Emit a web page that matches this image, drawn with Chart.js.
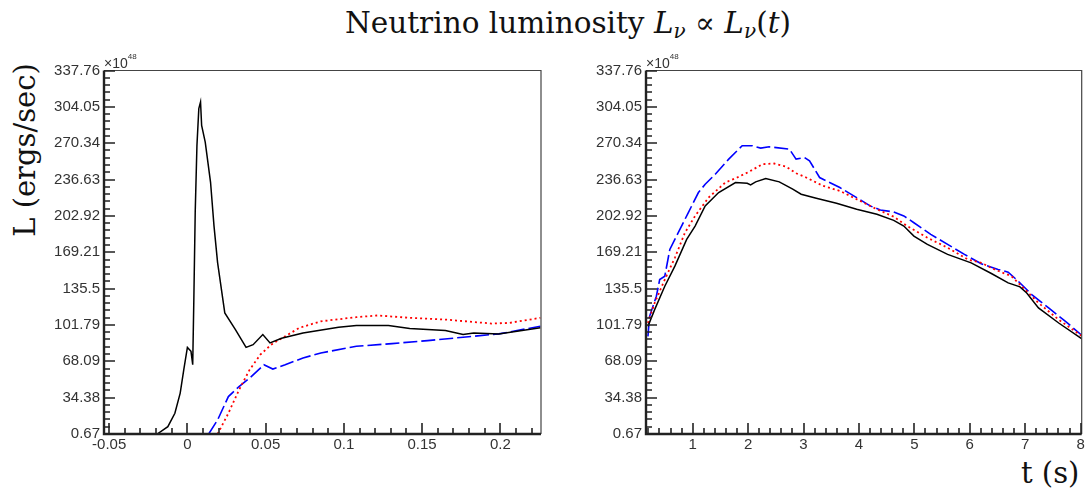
<!DOCTYPE html>
<html>
<head>
<meta charset="utf-8">
<script src="https://cdn.jsdelivr.net/npm/chart.js@4"></script>
<style>
  body { margin: 0; background: #fff; width: 1089px; height: 488px; position: relative; overflow: hidden; }
  canvas { position: absolute; top: 0; }
  .txt { position: absolute; font-family: "DejaVu Serif", serif; color: #111; white-space: nowrap; }
  .txt i { font-style: italic; }
  .txt sub { font-size: 20px; vertical-align: -5px; line-height: 0; }
</style>
</head>
<body>
<div class="txt" id="title" style="left:345px; top:6px; font-size:29.5px; line-height:34px;">Neutrino luminosity <i>L</i><sub><i>ν</i></sub> ∝ <i>L</i><sub><i>ν</i></sub>(<i>t</i>)</div>
<div class="txt" id="ytitle" style="left:-65px; top:132px; width:180px; height:36px; line-height:36px; font-size:29px; text-align:center; transform:rotate(-90deg);">L (ergs/sec)</div>
<div class="txt" id="xtitle" style="left:1021px; top:455px; font-size:29px; line-height:36px;">t (s)</div>
<canvas id="leftChart" width="545" height="488" style="left:0px;"></canvas>
<canvas id="rightChart" width="544" height="488" style="left:545px;"></canvas>
<script>
// Tick labels (ROOT style)
const yTickLabels = ['0.67', '34.38', '68.09', '101.79', '135.5', '169.21', '202.92', '236.63', '270.34', '304.05', '337.76'];
const xLeftLabels = ['-0.05', '0', '0.05', '0.1', '0.15', '0.2'];
const xRightLabels = ['1', '2', '3', '4', '5', '6', '7', '8'];

// Left panel: early times (s), luminosity in 1e48 erg/s
const tLeftBlack = [-0.05, -0.0193, -0.0125, -0.008, -0.0046, -0.0023, 0, 0.0023, 0.0034, 0.0041, 0.005, 0.0061, 0.0073, 0.0084, 0.0091, 0.0114, 0.0148, 0.017, 0.0193, 0.0239, 0.0307, 0.0375, 0.042, 0.0482, 0.0528, 0.0602, 0.0739, 0.0966, 0.108, 0.1285, 0.1421, 0.1649, 0.1762, 0.183, 0.199, 0.2256];
const lLeftBlack = [0.67, 0.67, 7.5, 19.9, 38.6, 60.3, 81.0, 77.3, 64.9, 123.9, 206.2, 268.2, 302.4, 308.6, 286.8, 271.3, 234.1, 193.7, 159.6, 113.0, 97.5, 81.0, 83.5, 92.9, 85.1, 89.4, 94.4, 99.7, 101.2, 101.2, 98.4, 96.6, 92.9, 94.4, 93.5, 99.1];
const tLeftRed = [0.0193, 0.0262, 0.033, 0.0398, 0.0466, 0.0535, 0.0602, 0.0716, 0.0853, 0.108, 0.1217, 0.1421, 0.1649, 0.1944, 0.2058, 0.2256];
const lLeftRed = [0.67, 19.9, 41.6, 60.3, 74.2, 83.5, 89.4, 99.1, 105.2, 109.0, 110.6, 108.4, 106.8, 103.1, 103.7, 108.4];
const tLeftBlue = [0.0136, 0.0193, 0.0262, 0.033, 0.0398, 0.0489, 0.0546, 0.0625, 0.0739, 0.0853, 0.108, 0.1308, 0.1535, 0.1762, 0.199, 0.2256];
const lLeftBlue = [0.67, 13.7, 35.4, 44.7, 52.5, 64.9, 60.9, 64.9, 71.2, 75.8, 82.0, 84.5, 87.3, 90.4, 93.5, 100.6];

// Right panel: late times (s)
const tRightBlack = [0.192, 0.313, 0.496, 0.678, 0.891, 1.043, 1.225, 1.468, 1.772, 1.984, 2.045, 2.136, 2.318, 2.562, 2.805, 2.957, 3.23, 3.595, 3.959, 4.324, 4.628, 4.81, 4.992, 5.235, 5.6, 6.025, 6.39, 6.693, 6.906, 7.028, 7.24, 7.605, 8.03];
const lRightBlack = [100.5, 116.0, 137.7, 156.3, 181.1, 193.5, 212.2, 224.6, 233.9, 233.2, 231.7, 234.5, 237.6, 234.5, 227.7, 223.0, 219.3, 214.6, 209.1, 204.4, 198.8, 193.5, 184.2, 176.5, 167.2, 159.4, 149.5, 140.8, 137.1, 131.5, 117.6, 103.6, 88.7];
const tRightRed = [0.192, 0.313, 0.496, 0.678, 0.86, 1.043, 1.286, 1.589, 1.802, 2.015, 2.258, 2.47, 2.683, 2.865, 3.048, 3.352, 3.655, 3.959, 4.324, 4.628, 4.87, 5.235, 5.6, 5.964, 6.207, 6.45, 6.754, 6.997, 7.24, 7.605, 8.03];
const lRightRed = [103.6, 122.2, 143.9, 164.1, 187.4, 202.9, 219.9, 233.9, 238.5, 243.8, 250.9, 251.5, 248.7, 242.5, 238.5, 230.8, 226.1, 218.4, 209.1, 202.2, 193.5, 182.7, 173.4, 162.5, 159.4, 153.2, 147.0, 134.6, 122.2, 106.7, 91.2];
const tRightBlue = [0.192, 0.222, 0.344, 0.404, 0.496, 0.587, 0.739, 0.921, 1.103, 1.225, 1.407, 1.65, 1.893, 2.076, 2.227, 2.38, 2.744, 2.865, 3.017, 3.108, 3.29, 3.655, 3.959, 4.202, 4.385, 4.628, 4.81, 4.992, 5.296, 5.6, 5.904, 6.207, 6.511, 6.693, 6.876, 7.119, 7.423, 7.727, 8.03];
const lRightBlue = [91.2, 109.8, 128.4, 143.9, 147.0, 171.8, 187.4, 206.0, 224.6, 232.3, 241.6, 255.6, 268.0, 268.0, 265.8, 267.0, 264.9, 255.6, 257.1, 254.0, 238.5, 229.2, 219.9, 212.2, 208.4, 206.6, 202.9, 196.6, 185.8, 176.5, 167.2, 158.5, 153.2, 150.8, 142.3, 130.0, 117.6, 105.2, 91.8];

const pts = (xs, ys) => xs.map((x, i) => ({ x: x, y: ys[i] }));

// y ticks: majors from labels, 4 minors between
function yTicks() {
  const majors = yTickLabels.map(Number);
  const out = [];
  majors.forEach((m, i) => {
    out.push({ value: m, isMajor: true, lab: yTickLabels[i] });
    if (i < majors.length - 1) {
      const step = (majors[i + 1] - m) / 5;
      for (let k = 1; k < 5; k++) out.push({ value: m + k * step, isMajor: false, lab: '' });
    }
  });
  return out;
}

function leftXTicks() {
  const out = [];
  for (let i = 0; i <= 27; i++) {
    const v = -0.05 + i * 0.01;
    out.push({ value: v, isMajor: i % 5 === 0, lab: i % 5 === 0 ? xLeftLabels[i / 5] : '' });
  }
  return out;
}

function rightXTicks() {
  const out = [];
  for (let i = 0; i < 40; i++) {
    const v = 0.2 + i * 0.2;
    const maj = (i + 1) % 5 === 0;
    out.push({ value: v, isMajor: maj, lab: maj ? xRightLabels[(i + 1) / 5 - 1] : '' });
  }
  return out;
}

// frame, inward ticks and the x10^48 exponent, ROOT style
const rootFrame = {
  id: 'rootFrame',
  afterDraw(chart) {
    const { ctx, chartArea: a, scales } = chart;
    ctx.save();
    ctx.strokeStyle = '#444';
    ctx.lineWidth = 1.2;
    ctx.beginPath();
    ctx.moveTo(a.left, a.top);
    ctx.lineTo(a.right, a.top);
    ctx.lineTo(a.right, a.bottom);
    ctx.stroke();
    ctx.strokeStyle = '#222';
    ctx.lineWidth = 2.4;
    ctx.beginPath();
    ctx.moveTo(a.left, a.top);
    ctx.lineTo(a.left, a.bottom);
    ctx.lineTo(a.right, a.bottom);
    ctx.stroke();
    ctx.lineWidth = 1.6;
    ctx.beginPath();
    scales.x.ticks.forEach(t => {
      const x = Math.round(scales.x.getPixelForValue(t.value));
      const len = t.isMajor ? 11 : 6;
      ctx.moveTo(x, a.bottom);
      ctx.lineTo(x, a.bottom - len);
    });
    scales.y.ticks.forEach(t => {
      const y = Math.round(scales.y.getPixelForValue(t.value));
      const len = t.isMajor ? 11 : 6;
      ctx.moveTo(a.left, y);
      ctx.lineTo(a.left + len, y);
    });
    ctx.stroke();
    ctx.fillStyle = '#333';
    ctx.font = '14px "Liberation Sans", Arial, sans-serif';
    ctx.textBaseline = 'alphabetic';
    ctx.fillText('×10', a.left, a.top - 2.5);
    const w = ctx.measureText('×10').width;
    ctx.font = '8px "Liberation Sans", Arial, sans-serif';
    ctx.fillText('48', a.left + w, a.top - 12);
    ctx.restore();
  }
};

function makeChart(id, cfg) {
  const tickFont = { family: '"Liberation Sans", Arial, sans-serif', size: 15 };
  return new Chart(document.getElementById(id), {
    type: 'line',
    data: {
      datasets: [
        { data: pts(cfg.tb, cfg.lb), borderColor: '#000', borderWidth: 1.5 },
        { data: pts(cfg.tr, cfg.lr), borderColor: '#ff0000', borderWidth: 1.8, borderDash: [2, 3] },
        { data: pts(cfg.tu, cfg.lu), borderColor: '#0000ff', borderWidth: 1.6, borderDash: [14, 4] }
      ]
    },
    options: {
      responsive: false,
      animation: false,
      elements: { point: { radius: 0 }, line: { tension: 0 } },
      layout: { padding: { top: 70.5, right: cfg.padRight, left: 0, bottom: 0 } },
      plugins: { legend: { display: false }, tooltip: { enabled: false } },
      scales: {
        x: {
          type: 'linear', min: cfg.xmin, max: cfg.xmax,
          afterBuildTicks: s => { s.ticks = cfg.xticks(); },
          afterFit: s => { s.height = 54; },
          grid: { display: false, drawTicks: false },
          border: { display: false },
          ticks: { autoSkip: false, maxRotation: 0, padding: 2, color: '#333', font: tickFont,
                   callback: (v, i, ticks) => ticks[i].lab }
        },
        y: {
          type: 'linear', min: 0.67, max: 337.76,
          afterBuildTicks: s => { s.ticks = yTicks(); },
          afterFit: s => { s.width = cfg.yWidth; },
          grid: { display: false, drawTicks: false },
          border: { display: false },
          ticks: { autoSkip: false, padding: 4, color: '#333', font: tickFont,
                   callback: (v, i, ticks) => ticks[i].lab }
        }
      }
    },
    plugins: [rootFrame]
  });
}

makeChart('leftChart', {
  tb: tLeftBlack, lb: lLeftBlack, tr: tLeftRed, lr: lLeftRed, tu: tLeftBlue, lu: lLeftBlue,
  xmin: -0.0533, xmax: 0.226, xticks: leftXTicks, yWidth: 104, padRight: 4
});

makeChart('rightChart', {
  tb: tRightBlack, lb: lRightBlack, tr: tRightRed, lr: lRightRed, tu: tRightBlue, lu: lRightBlue,
  xmin: 0.157, xmax: 8.02, xticks: rightXTicks, yWidth: 101, padRight: 7.3
});
</script>
</body>
</html>
